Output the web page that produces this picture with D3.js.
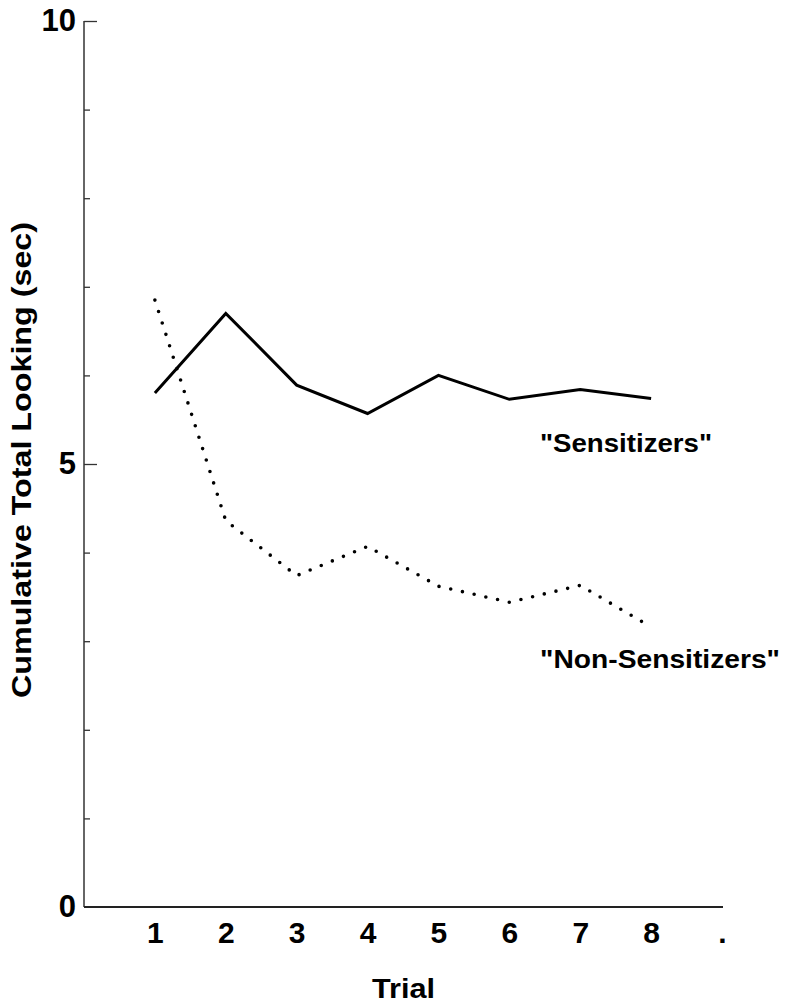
<!DOCTYPE html>
<html>
<head>
<meta charset="utf-8">
<script src="https://cdn.jsdelivr.net/npm/d3@7"></script>
<style>
  body { margin: 0; background: #fff; }
  svg text { font-family: "Liberation Sans", Arial, Helvetica, sans-serif; font-weight: bold; fill: #000; }
</style>
</head>
<body>
<svg id="chart" width="788" height="1007"></svg>
<script>
/* data */
var trials = [1, 2, 3, 4, 5, 6, 7, 8];
var trialLabels = ["1", "2", "3", "4", "5", "6", "7", "8", "."];
var sensitizers = [5.80, 6.70, 5.89, 5.57, 6.00, 5.73, 5.84, 5.74];
var nonSensitizers = [6.85, 4.36, 3.74, 4.07, 3.62, 3.44, 3.63, 3.16];
var yMajor = [0, 5, 10];
var yMinor = [1, 2, 3, 4, 6, 7, 8, 9];

var svg = d3.select("#chart");

var x = d3.scaleLinear().domain([0, 9]).range([84, 722]);
var y = d3.scaleLinear().domain([0, 10]).range([907, 21]);

// axes lines
svg.append("line")
  .attr("x1", x(0)).attr("x2", x(0))
  .attr("y1", y(10)).attr("y2", y(0))
  .attr("stroke", "#333").attr("stroke-width", 1.5);
svg.append("line")
  .attr("x1", x(0)).attr("x2", x(9) + 1)
  .attr("y1", y(0)).attr("y2", y(0))
  .attr("stroke", "#222").attr("stroke-width", 2);

// minor y ticks (inward)
var minorAxis = d3.axisLeft(y).tickValues(yMinor).tickSize(-6).tickFormat("");
svg.append("g")
  .attr("transform", "translate(" + x(0) + ",0)")
  .call(minorAxis)
  .call(function(g) { g.select(".domain").remove(); })
  .selectAll("line").attr("stroke", "#333").attr("stroke-width", 1.3);

// major y ticks with labels
var majorAxis = d3.axisLeft(y).tickValues(yMajor).tickSizeInner(-13).tickSizeOuter(0)
  .tickPadding(8).tickFormat(d3.format("d"));
var gMaj = svg.append("g")
  .attr("transform", "translate(" + x(0) + ",0)")
  .call(majorAxis);
gMaj.select(".domain").remove();
gMaj.selectAll("line").attr("stroke", "#333").attr("stroke-width", 1.3)
  .filter(function(d) { return d === 0; }).remove();
gMaj.selectAll("text")
  .style("font-size", "31px")
  .style("font-family", "'Liberation Sans', Arial, sans-serif")
  .style("font-weight", "bold")
  .attr("fill", "#000");

// x axis labels
var xAxis = d3.axisBottom(x).tickValues(d3.range(1, 10)).tickSize(0).tickPadding(15)
  .tickFormat(function(d) { return trialLabels[d - 1]; });
var gx = svg.append("g")
  .attr("transform", "translate(0," + y(0) + ")")
  .call(xAxis);
gx.select(".domain").remove();
gx.selectAll("text")
  .style("font-size", "30px")
  .style("font-family", "'Liberation Sans', Arial, sans-serif")
  .style("font-weight", "bold")
  .attr("fill", "#000");

// lines
var line = d3.line()
  .x(function(d, i) { return x(trials[i]); })
  .y(function(d) { return y(d); });

svg.append("path")
  .datum(sensitizers)
  .attr("d", line)
  .attr("fill", "none")
  .attr("stroke", "#000")
  .attr("stroke-width", 3)
  .attr("stroke-linejoin", "miter");

svg.append("path")
  .datum(nonSensitizers)
  .attr("d", line)
  .attr("fill", "none")
  .attr("stroke", "#000")
  .attr("stroke-width", 3.6)
  .attr("stroke-linecap", "round")
  .attr("stroke-dasharray", "0 12");

// series labels
svg.append("text")
  .attr("x", 540).attr("y", 452)
  .attr("textLength", 172).attr("lengthAdjust", "spacingAndGlyphs")
  .style("font-size", "26px")
  .text("\"Sensitizers\"");
svg.append("text")
  .attr("x", 540).attr("y", 668)
  .attr("textLength", 240).attr("lengthAdjust", "spacingAndGlyphs")
  .style("font-size", "26px")
  .text("\"Non-Sensitizers\"");

// axis titles
svg.append("text")
  .attr("x", 372).attr("y", 998)
  .attr("textLength", 63).attr("lengthAdjust", "spacingAndGlyphs")
  .style("font-size", "27px")
  .text("Trial");

svg.append("text")
  .attr("transform", "translate(31,460) rotate(-90)")
  .attr("text-anchor", "middle")
  .attr("textLength", 476).attr("lengthAdjust", "spacingAndGlyphs")
  .style("font-size", "28px")
  .text("Cumulative Total Looking (sec)");
</script>
</body>
</html>
